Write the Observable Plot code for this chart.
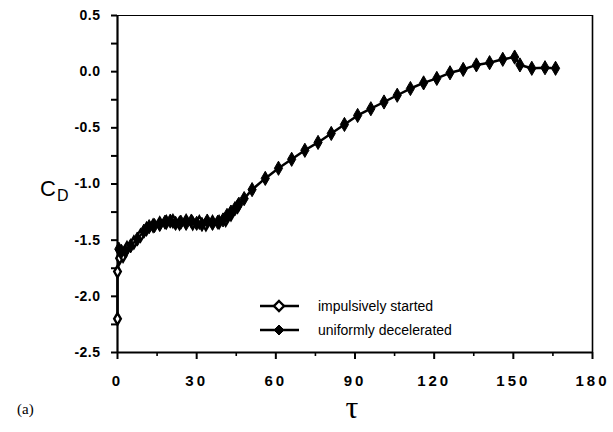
<!DOCTYPE html>
<html><head><meta charset="utf-8">
<script src="https://cdn.jsdelivr.net/npm/d3@7"></script>
<script src="https://cdn.jsdelivr.net/npm/@observablehq/plot@0.6"></script>
<style>body{margin:0;background:#fff}</style>
</head><body><div id="chart"></div>
<script>
// impulsively started (open markers)
const impulsiveTau = [0, 0, 0.8, 2.1, 3.6, 6.2, 8.7, 11, 13.5, 16, 18.5, 21, 23.5, 26, 28.5, 31, 33.5, 36, 38.5, 41, 43, 45.5];
const impulsiveCd  = [-2.2, -1.78, -1.66, -1.64, -1.57, -1.52, -1.46, -1.40, -1.37, -1.35, -1.34, -1.33, -1.35, -1.33, -1.35, -1.34, -1.36, -1.34, -1.34, -1.32, -1.27, -1.2];
// uniformly decelerated (filled markers)
const deceleratedTau = [0.5, 1.5, 3, 5, 7.5, 10, 12, 14, 16, 18, 20, 22, 24, 26, 28, 30, 32, 34, 36, 38, 40, 41.5, 43, 44.5, 46, 48, 51, 56, 61, 66, 71, 76, 81, 86, 91, 96, 101, 106, 111, 116, 121, 126, 131, 136, 141, 146, 150.5, 152.5, 157, 162, 166];
const deceleratedCd  = [-1.58, -1.6, -1.6, -1.55, -1.49, -1.42, -1.38, -1.37, -1.36, -1.34, -1.33, -1.35, -1.34, -1.35, -1.33, -1.35, -1.36, -1.33, -1.35, -1.34, -1.32, -1.28, -1.25, -1.22, -1.18, -1.13, -1.05, -0.95, -0.86, -0.78, -0.70, -0.63, -0.55, -0.47, -0.39, -0.33, -0.27, -0.21, -0.15, -0.10, -0.06, -0.01, 0.02, 0.06, 0.08, 0.11, 0.13, 0.06, 0.03, 0.035, 0.03];
const xTicks = [0, 30, 60, 90, 120, 150, 180];
const xMinorTicks = [15, 45, 75, 105, 135, 165];
const yTicks = [0.5, 0, -0.5, -1, -1.5, -2, -2.5];
const yMinorTicks = [0.25, -0.25, -0.75, -1.25, -1.75, -2.25];
const legendLabels = ["impulsively started", "uniformly decelerated"];

const imp = impulsiveTau.map((t, i) => ({t, cd: impulsiveCd[i]}));
const dec = deceleratedTau.map((t, i) => ({t, cd: deceleratedCd[i]}));

const font = "'Liberation Sans', Arial, sans-serif";
const plot = Plot.plot({
  width: 613, height: 432,
  marginLeft: 117, marginRight: 21, marginTop: 15, marginBottom: 80,
  x: {domain: [0, 180]},
  y: {domain: [-2.5, 0.5]},
  style: {fontFamily: font, background: "white", color: "black"},
  marks: [
    Plot.ruleY([0.5], {stroke: "black", strokeWidth: 1.2}),
    Plot.ruleX([180], {stroke: "black", strokeWidth: 1.6}),
    Plot.axisX(xTicks, {tickSize: 7, tickPadding: 16, tickFormat: d => String(d), fontSize: 15, fontWeight: "bold", strokeWidth: 2, label: null}),
    Plot.axisX(xMinorTicks, {tickSize: 4, tickFormat: () => "", strokeWidth: 1.6, label: null}),
    Plot.axisY(yTicks, {tickSize: 6, tickPadding: 11, tickFormat: d => d.toFixed(1), fontSize: 14, fontWeight: "bold", strokeWidth: 2, label: null}),
    Plot.axisY(yMinorTicks, {tickSize: 6, tickFormat: () => "", strokeWidth: 2, label: null}),
    Plot.ruleX([0], {stroke: "black", strokeWidth: 2.2}),
    Plot.ruleY([-2.5], {stroke: "black", strokeWidth: 2.2}),
    Plot.line(imp, {x: "t", y: "cd", stroke: "black", strokeWidth: 2.5}),
    Plot.dot(imp, {x: "t", y: "cd", symbol: "diamond", r: 3.5, fill: "white", stroke: "black", strokeWidth: 2.4}),
    Plot.line(dec, {x: "t", y: "cd", stroke: "black", strokeWidth: 2.5}),
    Plot.dot(dec, {x: "t", y: "cd", symbol: "diamond", r: 4.3, fill: "black", stroke: "black", strokeWidth: 1})
  ]
});

const svg = d3.select(plot);
svg.selectAll("g[aria-label='x-axis tick label'] text").attr("letter-spacing", "3px");
svg.selectAll("g[aria-label='y-axis tick label'] text").attr("letter-spacing", "0.5px");

// legend
const leg = svg.append("g");
legendLabels.forEach((lab, i) => {
  const y = 306 + i * 24;
  leg.append("line").attr("x1", 260).attr("x2", 299).attr("y1", y).attr("y2", y)
    .attr("stroke", "black").attr("stroke-width", 2.5);
  const s = 5;
  leg.append("path").attr("d", `M279,${y - s}L${279 + s},${y}L279,${y + s}L${279 - s},${y}Z`)
    .attr("fill", i === 0 ? "white" : "black").attr("stroke", "black").attr("stroke-width", i === 0 ? 2.4 : 1);
  leg.append("text").attr("x", 318).attr("y", y + 5).attr("text-anchor", "start").attr("font-family", font)
    .attr("font-size", 14).attr("fill", "black").text(lab);
});

// axis titles
const yl = svg.append("text").attr("x", 40).attr("y", 196).attr("text-anchor", "start").attr("font-family", font).attr("fill", "black");
yl.append("tspan").attr("font-size", 22).text("C");
yl.append("tspan").attr("font-size", 16).attr("dy", 5).attr("dx", 1).text("D");
svg.append("text").attr("x", 352).attr("y", 418).attr("text-anchor", "middle")
  .attr("font-family", "'Liberation Serif', 'DejaVu Serif', serif").attr("font-size", 32).attr("fill", "black").text("τ");
svg.append("text").attr("x", 17).attr("y", 414).attr("text-anchor", "start")
  .attr("font-family", "'Liberation Serif', 'DejaVu Serif', serif").attr("font-size", 15).attr("fill", "black").text("(a)");

document.getElementById("chart").appendChild(plot);
</script>
</body></html>
